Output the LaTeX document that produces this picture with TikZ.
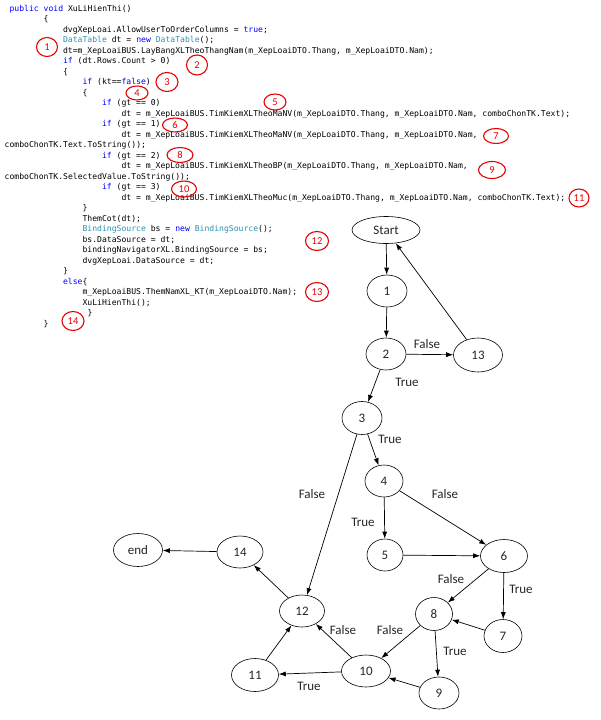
\documentclass[tikz,border=0pt]{standalone}
\usepackage{fontspec}
\usepackage{tikz}
\usetikzlibrary{shapes, arrows.meta}
\newfontfamily\codefont{DejaVu Sans Mono}
\newfontfamily\graphfont{Carlito}
\definecolor{kwblue}{RGB}{0, 0, 255}
\definecolor{tyteal}{RGB}{43, 145, 175}
\definecolor{markred}{RGB}{230, 0, 0}
\newcommand{\kw}[1]{\textcolor{kwblue}{#1}}
\newcommand{\ty}[1]{\textcolor{tyteal}{#1}}
\tikzset{>={Latex[length=7pt, width=5pt]}}
\tikzset{
  code/.style = {font=\codefont\fontsize{8.1}{10}\selectfont, anchor=base west, inner sep=0pt},
  numcircle/.style = {draw=markred, ellipse, line width=1.1pt, text=markred, inner sep=0pt,
    font=\graphfont\fontsize{10.5}{12}\selectfont},
  vertex/.style = {draw, ellipse, line width=0.6pt, inner sep=0pt, text=black!85,
    font=\graphfont\fontsize{13}{15}\selectfont, minimum width=40pt, minimum height=32pt},
  lbl/.style = {font=\graphfont\fontsize{13}{15}\selectfont, inner sep=0pt, text=black!85},
  flow/.style = {->, line width=0.7pt},
}

\begin{document}
\begin{tikzpicture}[x=1pt, y=-1pt]
\useasboundingbox (0,0) rectangle (601,720);

% code listing
\node[code] (l0) at (9.4, 11.3) {\kw{public} \kw{void} XuLiHienThi()};
\node[code] (l1) at (43.5, 21.8) {\{};
\node[code] (l2) at (62.9, 32.3) {dvgXepLoai.AllowUserToOrderColumns = \kw{true};};
\node[code] (l3) at (62.9, 42.8) {\ty{DataTable} dt = \kw{new} \ty{DataTable}();};
\node[code] (l4) at (62.9, 53.3) {dt=m\_XepLoaiBUS.LayBangXLTheoThangNam(m\_XepLoaiDTO.Thang, m\_XepLoaiDTO.Nam);};
\node[code] (l5) at (62.9, 63.8) {\kw{if} (dt.Rows.Count > 0)};
\node[code] (l6) at (62.9, 74.3) {\{};
\node[code] (l7) at (82.4, 84.8) {\kw{if} (kt==\kw{false})};
\node[code] (l8) at (82.4, 95.3) {\{};
\node[code] (l9) at (101.9, 105.8) {\kw{if} (gt == 0)};
\node[code] (l10) at (121.4, 116.3) {dt = m\_XepLoaiBUS.TimKiemXLTheoMaNV(m\_XepLoaiDTO.Thang, m\_XepLoaiDTO.Nam, comboChonTK.Text);};
\node[code] (l11) at (101.9, 126.8) {\kw{if} (gt == 1)};
\node[code] (l12) at (121.4, 137.3) {dt = m\_XepLoaiBUS.TimKiemXLTheoMaNV(m\_XepLoaiDTO.Thang, m\_XepLoaiDTO.Nam,};
\node[code] (l13) at (4.5, 147.8) {comboChonTK.Text.ToString());};
\node[code] (l14) at (101.9, 158.3) {\kw{if} (gt == 2)};
\node[code] (l15) at (121.4, 168.8) {dt = m\_XepLoaiBUS.TimKiemXLTheoBP(m\_XepLoaiDTO.Thang, m\_XepLoaiDTO.Nam,};
\node[code] (l16) at (4.5, 179.3) {comboChonTK.SelectedValue.ToString());};
\node[code] (l17) at (101.9, 189.8) {\kw{if} (gt == 3)};
\node[code] (l18) at (121.4, 200.3) {dt = m\_XepLoaiBUS.TimKiemXLTheoMuc(m\_XepLoaiDTO.Thang, m\_XepLoaiDTO.Nam, comboChonTK.Text);};
\node[code] (l19) at (82.4, 210.8) {\}};
\node[code] (l20) at (82.4, 221.3) {ThemCot(dt);};
\node[code] (l21) at (82.4, 231.8) {\ty{BindingSource} bs = \kw{new} \ty{BindingSource}();};
\node[code] (l22) at (82.4, 242.3) {bs.DataSource = dt;};
\node[code] (l23) at (82.4, 252.8) {bindingNavigatorXL.BindingSource = bs;};
\node[code] (l24) at (82.4, 263.3) {dvgXepLoai.DataSource = dt;};
\node[code] (l25) at (62.9, 273.8) {\}};
\node[code] (l26) at (62.9, 284.3) {\kw{else}\{};
\node[code] (l27) at (82.4, 294.8) {m\_XepLoaiBUS.ThemNamXL\_KT(m\_XepLoaiDTO.Nam);};
\node[code] (l28) at (82.4, 305.3) {XuLiHienThi();};
\node[code] (l29) at (87.3, 315.8) {\}};
\node[code] (l30) at (43.5, 326.3) {\}};

% red markers
\node[numcircle, minimum width=21pt, minimum height=19pt] (c1) at (47, 47) {1};
\node[numcircle, minimum width=21pt, minimum height=20pt] (c2) at (197, 65) {2};
\node[numcircle, minimum width=22pt, minimum height=19pt] (c3) at (167, 82) {3};
\node[numcircle, minimum width=22pt, minimum height=14pt] (c4) at (137, 93) {4};
\node[numcircle, minimum width=22pt, minimum height=16pt] (c5) at (275, 102) {5};
\node[numcircle, minimum width=25pt, minimum height=14pt] (c6) at (175, 125) {6};
\node[numcircle, minimum width=25pt, minimum height=15pt] (c7) at (496, 136) {7};
\node[numcircle, minimum width=26pt, minimum height=15pt] (c8) at (180, 155) {8};
\node[numcircle, minimum width=27pt, minimum height=17pt] (c9) at (492, 170) {9};
\node[numcircle, minimum width=25pt, minimum height=16pt] (c10) at (184, 189) {10};
\node[numcircle, minimum width=20pt, minimum height=18pt] (c11) at (579, 198) {11};
\node[numcircle, minimum width=23pt, minimum height=19pt] (c12) at (317, 241) {12};
\node[numcircle, minimum width=23pt, minimum height=19pt] (c13) at (317, 292) {13};
\node[numcircle, minimum width=22pt, minimum height=19pt] (c14) at (73, 321) {14};

% flow graph
\node[vertex, minimum width=68pt, minimum height=27pt] (start) at (386, 230) {Start};
\node[vertex] (n1) at (387, 291) {1};
\node[vertex] (n2) at (386, 354) {2};
\node[vertex, minimum width=49pt, minimum height=34pt] (n13) at (478, 355) {13};
\node[vertex, minimum height=33pt] (n3) at (362, 418) {3};
\node[vertex, minimum width=38pt] (n4) at (384, 481) {4};
\node[vertex, minimum width=36pt] (n5) at (385, 555) {5};
\node[vertex, minimum width=47pt, minimum height=33pt] (n6) at (504, 556) {6};
\node[vertex, minimum width=38pt, minimum height=33pt] (n7) at (503, 636) {7};
\node[vertex, minimum width=37pt, minimum height=33pt] (n8) at (434, 614) {8};
\node[vertex] (n9) at (439, 693) {9};
\node[vertex, minimum width=49pt] (n10) at (366, 671) {10};
\node[vertex, minimum width=47pt, minimum height=33pt] (n11) at (255, 675) {11};
\node[vertex, minimum width=45pt] (n12) at (302, 611) {12};
\node[vertex, minimum width=46pt] (n14) at (240, 552) {14};
\node[vertex, minimum width=49pt, minimum height=33pt] (end) at (138, 550) {end};

\draw[flow] (start) -- (n1);
\draw[flow] (n1) -- (n2);
\draw[flow] (n2) -- (n13);
\draw[flow] (n13) -- (start);
\draw[flow] (n2) -- (n3);
\draw[flow] (n3) -- (n4);
\draw[flow] (n3) -- (n12);
\draw[flow] (n4) -- (n5);
\draw[flow] (n4) -- (n6);
\draw[flow] (n5) -- (n6);
\draw[flow] (n6) -- (n8);
\draw[flow] (n6) -- (n7);
\draw[flow] (n7) -- (n8);
\draw[flow] (n8) -- (n10);
\draw[flow] (n8) -- (n9);
\draw[flow] (n9) -- (n10);
\draw[flow] (n10) -- (n12);
\draw[flow] (n10) -- (n11);
\draw[flow] (n11) -- (n12);
\draw[flow] (n12) -- (n14);
\draw[flow] (n14) -- (end);

% edge labels
\node[lbl] (f2) at (427, 344) {False};
\node[lbl] (t2) at (407, 382) {True};
\node[lbl] (t3) at (390, 439) {True};
\node[lbl] (f3) at (312, 494) {False};
\node[lbl] (t4) at (363, 522) {True};
\node[lbl] (f4) at (445, 494) {False};
\node[lbl] (f6) at (451, 579) {False};
\node[lbl] (t6) at (521, 589) {True};
\node[lbl] (f8) at (390, 630) {False};
\node[lbl] (t8) at (455, 651) {True};
\node[lbl] (f10) at (343, 630) {False};
\node[lbl] (t10) at (309, 686) {True};

\end{tikzpicture}
\end{document}
